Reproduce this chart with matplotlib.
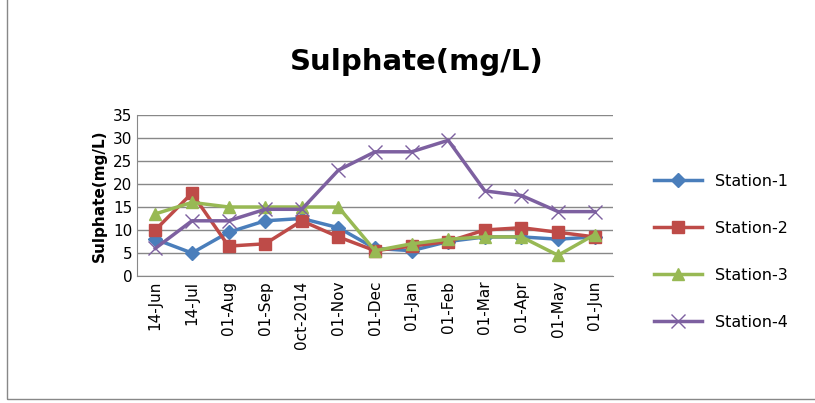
import matplotlib.pyplot as plt
import numpy as np

cats = ["14-Jun","14-Jul","01-Aug","01-Sep","0ct-2014","01-Nov","01-Dec","01-Jan","01-Feb","01-Mar","01-Apr","01-May","01-Jun"]
s1 = [8, 5, 9.5, 12, 12.5, 10.5, 6, 5.5, 7.5, 8.5, 8.5, 8, 8.5]
s2 = [10, 18, 6.5, 7, 12, 8.5, 5.5, 6.5, 7.5, 10, 10.5, 9.5, 8.5]
s3 = [13.5, 16, 15, 15, 15, 15, 5.5, 7, 8, 8.5, 8.5, 4.5, 9]
s4 = [6, 12, 12, 14.5, 14.5, 23, 27, 27, 29.5, 18.5, 17.5, 14, 14]
names = ["Station-1","Station-2","Station-3","Station-4"]

fig = plt.figure(figsize=(8.15,4.03), dpi=100)
ax = fig.add_axes([137/815, 1-276/403, 476/815, 161/403])
x = np.arange(len(cats))
ax.plot(x, s1, color="#4a7ebb", marker="D", ms=7, lw=2.5, label=names[0])
ax.plot(x, s2, color="#be4b48", marker="s", ms=9, lw=2.5, label=names[1])
ax.plot(x, s3, color="#98b954", marker="^", ms=9, lw=2.5, label=names[2])
ax.plot(x, s4, color="#7d60a0", marker="x", ms=10, mew=1, lw=2.5, label=names[3])
ax.set_xlim(-0.5, len(cats)-0.5)
ax.set_ylim(0, 35)
ax.set_yticks(range(0, 36, 5))
ax.yaxis.grid(True, color="#888888", lw=1)
ax.set_axisbelow(True)
ax.set_xticks(x)
ax.set_xticklabels(cats, rotation=90, fontsize=11)
ax.tick_params(axis='y', labelsize=11, length=0)
ax.tick_params(axis='x', length=0)
for s in ["top","right"]:
    ax.spines[s].set_visible(False)
ax.spines["left"].set_color("#888888")
ax.spines["bottom"].set_color("#888888")
ax.set_ylabel("Sulphate(mg/L)", fontsize=11, fontweight="bold")
fig.text(417/815, 1-62/403, "Sulphate(mg/L)", fontsize=21, fontweight="bold", ha="center", va="center")
fig.legend(loc="center left", bbox_to_anchor=(640/815, 1-252/403), frameon=False, fontsize=11.5, labelspacing=2.0, handlelength=3)
fig.patches.append(plt.Rectangle((0.008,0.01),1.2,1.2, transform=fig.transFigure, fill=False, ec="#888888", lw=1))
fig.savefig("out.png")
